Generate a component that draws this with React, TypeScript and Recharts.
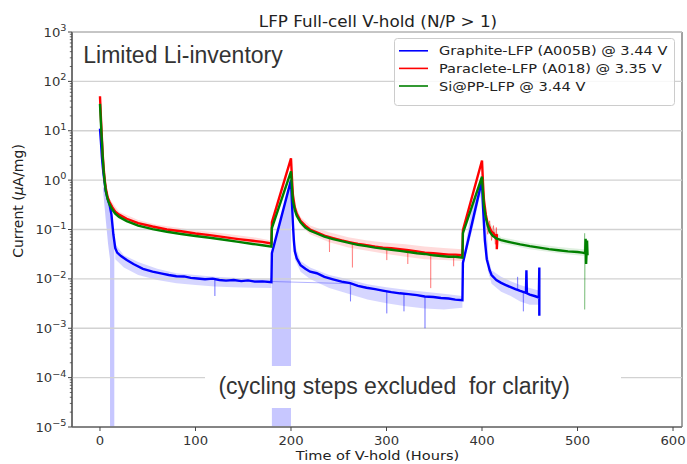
import React from 'react';
import { ComposedChart, Line, Area, XAxis, YAxis, Legend, ReferenceArea, ReferenceLine } from 'recharts';

// ---------- text ----------
const chartTitle = 'LFP Full-cell V-hold (N/P > 1)';
const xAxisLabel = 'Time of V-hold (Hours)';
const insetLabel = 'Limited Li-inventory';
const noteLabel = '(cycling steps excluded  for clarity)';
const seriesNames = ['Graphite-LFP (A005B) @ 3.44 V', 'Paraclete-LFP (A018) @ 3.35 V', 'Si@PP-LFP @ 3.44 V'];

// ---------- ticks ----------
const xTicks = [0, 100, 200, 300, 400, 500, 600];
const yMajorTicks = [1e-5, 1e-4, 1e-3, 1e-2, 1e-1, 1, 10, 100, 1000];
const yMinorMultipliers = [2, 3, 4, 5, 6, 7, 8, 9];
const yAllTicks = [
  ...yMajorTicks,
  ...yMajorTicks.slice(0, -1).flatMap((d) => yMinorMultipliers.map((m) => m * d)),
].sort((a, b) => a - b);

// ---------- smoothed series (time [h], current [uA/mg]) ----------
const graphite: number[][] = [
  [0, 11], [1, 6], [2, 3], [3, 1.8], [4, 1.2], [5, 0.85], [6, 0.6], [8, 0.42], [10, 0.32], [12, 0.2], [14, 0.08], [16, 0.042],
  [18, 0.034], [22, 0.029], [28, 0.024], [35, 0.02], [45, 0.016], [55, 0.014], [65, 0.0128], [72, 0.012], [80, 0.0113],
  [88, 0.0112], [95, 0.0105], [102, 0.0102], [110, 0.0098], [118, 0.0101], [125, 0.0095], [132, 0.0092], [140, 0.0095],
  [148, 0.009], [155, 0.0093], [162, 0.0088], [170, 0.0089], [179.5, 0.0086],
  [180, 0.033], [200, 1.0],
  [201, 0.35], [202, 0.13], [203, 0.06], [204, 0.036], [206, 0.026], [210, 0.019], [215, 0.016], [220, 0.014], [227, 0.013],
  [235, 0.011], [244, 0.0098], [253, 0.0088], [262, 0.0082], [270, 0.0072], [279, 0.0066], [288, 0.0062], [296, 0.0058],
  [305, 0.0054], [314, 0.0051], [323, 0.0049], [332, 0.0047], [340, 0.0044], [349, 0.0043], [357, 0.0041], [365, 0.004],
  [372, 0.0038], [379.5, 0.0037],
  [380, 0.021], [400, 1.0],
  [401, 0.3], [403, 0.06], [405, 0.025], [408, 0.015], [410, 0.012], [415, 0.0095], [420, 0.0083], [425, 0.0075],
  [430, 0.0068], [435, 0.0062], [440, 0.0057], [446, 0.0052], [446.5, 0.015],
  [447, 0.0051], [450, 0.0048], [455, 0.0045], [459.5, 0.0042], [460, 0.017], [460, 0.0018],
];

const paraclete: number[][] = [
  [0, 50], [1, 18], [2, 7], [3, 3], [4, 1.6], [5, 1.0], [6, 0.7], [8, 0.45], [10, 0.36], [13, 0.28], [16, 0.23], [20, 0.2],
  [28, 0.165], [40, 0.135], [55, 0.115], [70, 0.1], [85, 0.092], [100, 0.083], [115, 0.077], [130, 0.07], [145, 0.064],
  [160, 0.059], [170, 0.056], [179.5, 0.052],
  [180, 0.14], [200, 2.75],
  [201, 1.1], [202, 0.5], [204, 0.28], [206, 0.21], [210, 0.15], [215, 0.12], [220, 0.1], [227, 0.088], [235, 0.075],
  [244, 0.067], [253, 0.06], [262, 0.055], [270, 0.051], [279, 0.048], [288, 0.045], [296, 0.043], [305, 0.042],
  [314, 0.04], [323, 0.038], [332, 0.036], [340, 0.034], [349, 0.033], [357, 0.032], [365, 0.031], [372, 0.031], [379.5, 0.03],
  [380, 0.097], [400, 2.5],
  [401, 0.9], [402, 0.4], [404, 0.2], [406, 0.13], [408, 0.11], [410, 0.09], [412, 0.085], [414, 0.07], [415.5, 0.08],
  [415.5, 0.04], [416, 0.06],
];

const siPP: number[][] = [
  [0, 35], [1, 14], [2, 6], [3, 2.6], [4, 1.4], [5, 0.9], [6, 0.62], [8, 0.41], [10, 0.32], [13, 0.25], [16, 0.21], [20, 0.18],
  [28, 0.148], [40, 0.12], [55, 0.102], [70, 0.09], [85, 0.081], [100, 0.074], [115, 0.068], [130, 0.062], [145, 0.056],
  [160, 0.051], [170, 0.048], [179.5, 0.045],
  [180, 0.107], [200, 1.5],
  [201, 0.7], [202, 0.38], [204, 0.25], [206, 0.19], [210, 0.14], [215, 0.11], [220, 0.095], [227, 0.083], [235, 0.072],
  [244, 0.064], [253, 0.058], [262, 0.053], [270, 0.049], [279, 0.046], [288, 0.043], [296, 0.041], [305, 0.039],
  [314, 0.037], [323, 0.035], [332, 0.033], [340, 0.032], [349, 0.03], [357, 0.029], [365, 0.028], [372, 0.028], [379.5, 0.027],
  [380, 0.084], [400, 1.17],
  [401, 0.55], [402, 0.3], [404, 0.17], [406, 0.12], [408, 0.09], [411, 0.075], [415, 0.066], [420, 0.061], [430, 0.055],
  [440, 0.05], [450, 0.046], [460, 0.043], [470, 0.04], [480, 0.038], [490, 0.036], [500, 0.035], [505, 0.034], [508, 0.033],
  [508.5, 0.065], [509, 0.02], [510, 0.06], [510.5, 0.03],
];

// ---------- raw-data scatter envelopes: [time, low, high] ----------
const graphiteEnvelope0: number[][] = [
  [3, 0.7, 0.75], [6, 0.16, 0.6], [8.5, 0.05, 0.45], [10.5, 0.025, 0.32], [10.5, 1e-5, 0.32], [15, 1e-5, 0.045],
  [15, 0.03, 0.045],
];
const graphiteEnvelope1: number[][] = [
  [16, 0.025, 0.05], [25, 0.017, 0.03], [40, 0.012, 0.022], [60, 0.0095, 0.016], [80, 0.0082, 0.013], [100, 0.0075, 0.012],
  [120, 0.007, 0.011], [140, 0.0068, 0.0105], [160, 0.0066, 0.01], [179.5, 0.0065, 0.0098],
];
const graphiteEnvelopeRamp1: number[][] = [
  [180, 1e-5, 0.033], [200, 1e-5, 1.0],
];
const graphiteEnvelope2: number[][] = [
  [204, 0.025, 0.05], [210, 0.014, 0.023], [220, 0.01, 0.017], [240, 0.0065, 0.012], [260, 0.005, 0.0098],
  [280, 0.0038, 0.0078], [300, 0.0032, 0.0068], [320, 0.0028, 0.006], [340, 0.0025, 0.0055], [360, 0.0024, 0.005],
  [379.5, 0.0026, 0.0045],
];
const graphiteEnvelopeRamp2: number[][] = [
  [381, 0.021, 0.03], [390, 0.1, 0.35], [398, 0.5, 1.0], [401, 0.25, 0.8], [404, 0.03, 0.15], [406, 0.02, 0.05],
];
const graphiteEnvelope3: number[][] = [
  [406, 0.015, 0.03], [410, 0.008, 0.015], [420, 0.0055, 0.011], [430, 0.0045, 0.009], [440, 0.0035, 0.0075],
  [450, 0.003, 0.0065], [459.5, 0.003, 0.0058],
];
const paracleteEnvelope1: number[][] = [
  [10, 0.3, 0.42], [20, 0.17, 0.23], [40, 0.115, 0.155], [60, 0.095, 0.125], [80, 0.083, 0.11], [100, 0.073, 0.097],
  [120, 0.066, 0.088], [140, 0.058, 0.078], [160, 0.052, 0.07], [179.5, 0.046, 0.06],
];
const paracleteEnvelope2: number[][] = [
  [204, 0.24, 0.33], [210, 0.12, 0.18], [220, 0.08, 0.12], [240, 0.055, 0.088], [260, 0.043, 0.07], [280, 0.037, 0.06],
  [300, 0.032, 0.054], [320, 0.028, 0.05], [340, 0.025, 0.045], [360, 0.024, 0.042], [379.5, 0.023, 0.04],
];
const siPPEnvelope: number[][] = [
  [405, 0.1, 0.16], [420, 0.052, 0.07], [450, 0.04, 0.053], [480, 0.033, 0.044], [507, 0.029, 0.04],
];

// ---------- raw-data spikes ----------
const graphiteSpikes: number[][] = [
  [120, 0.0095], [120.3, 0.0045], [120.6, 0.0095], [262, 0.008], [262.3, 0.0035], [262.6, 0.008],
  [300, 0.0055], [300.3, 0.002], [300.6, 0.0055], [318, 0.005], [318.3, 0.0022], [318.6, 0.005],
  [340, 0.0044], [340.3, 0.001], [340.6, 0.0044],
];
const graphiteSpikes2: number[][] = [
  [437, 0.006], [437.3, 0.011], [437.6, 0.006], [443, 0.0055], [443.3, 0.0022], [443.6, 0.0055],
];
const paracleteSpikes: number[][] = [
  [240, 0.07], [240.3, 0.035], [240.6, 0.07], [264, 0.055], [264.3, 0.017], [264.6, 0.055], [300, 0.043],
  [300.3, 0.024], [300.6, 0.043], [322, 0.038], [322.3, 0.02], [322.6, 0.038], [346, 0.034], [346.3, 0.0065],
  [346.6, 0.034], [370, 0.031], [370.3, 0.018], [370.6, 0.031],
];
const paracleteSpikes2: number[][] = [
  [404, 0.2], [406, 0.08], [408, 0.15], [410, 0.06], [412, 0.12], [414, 0.05], [415, 0.11], [416, 0.045],
];
const siPPSpikes: number[][] = [
  [507, 0.034], [507.5, 0.084], [507.5, 0.0024], [508, 0.033],
];

const toPts = (a: number[][]) => a.map(([t, v]) => ({ t, v }));
const toRange = (a: number[][]) => a.map(([t, lo, hi]) => ({ t, r: [lo, hi] }));

const BLUE = '#0000ff';
const RED = '#ff0000';
const GREEN = '#008000';
const MPL_FONT = '"DejaVu Sans", sans-serif';
const PPT_FONT = '"Liberation Sans", Arial, sans-serif';

const YTick = (props: any) => {
  const { x, y, payload } = props;
  const v = payload.value as number;
  const e = Math.log10(v);
  const n = Math.round(e);
  const isMajor = Math.abs(e - n) < 1e-6;
  if (!isMajor) {
    return <line x1={x - 2.2} x2={x} y1={y} y2={y} stroke="#444" strokeWidth={0.8} />;
  }
  const expStr = n < 0 ? `\u2212${-n}` : `${n}`;
  return (
    <g>
      <line x1={x - 4} x2={x} y1={y} y2={y} stroke="#444" strokeWidth={1} />
      <g transform={`translate(${x - 5.5},${y}) scale(1.1,1)`}>
        <text x={0} y={0} dy={4.5} textAnchor="end" fontFamily={MPL_FONT} fontSize={12} fill="#333">
          10
          <tspan dy={-5.5} fontSize={8.8}>{expStr}</tspan>
        </text>
      </g>
    </g>
  );
};

const XTick = (props: any) => {
  const { x, y, payload } = props;
  return (
    <g transform={`translate(${x},${y}) scale(1.1,1)`}>
      <text x={0} y={0} dy={12} textAnchor="middle" fontFamily={MPL_FONT} fontSize={12} fill="#333">
        {payload.value}
      </text>
    </g>
  );
};

const LegendBox = (props: any) => {
  const payload = (props.payload || []).filter((p: any) => p.type !== 'none');
  return (
    <svg width={281} height={68} style={{ display: 'block', overflow: 'visible' }}>
      <rect x={0.5} y={0.5} width={280} height={67} rx={3} fill="#ffffff" fillOpacity={0.85} stroke="#cccccc" />
      {payload.map((p: any, i: number) => {
        const yy = 12.8 + 17.6 * i;
        return (
          <g key={i}>
            <line x1={5} x2={34} y1={yy} y2={yy} stroke={p.color} strokeWidth={1.6} />
            <g transform={`translate(45,${yy}) scale(1.12,1)`}>
              <text x={0} y={0} dy={4.6} fontFamily={MPL_FONT} fontSize={13} fill="#222">
                {p.value}
              </text>
            </g>
          </g>
        );
      })}
    </svg>
  );
};

const bandProps = (color: string, opacity: number) => ({
  dataKey: 'r',
  type: 'linear' as const,
  stroke: 'none',
  fill: color,
  fillOpacity: opacity,
  isAnimationActive: false,
  legendType: 'none' as const,
  dot: false,
  activeDot: false,
});

const faintProps = (color: string, opacity: number) => ({
  dataKey: 'v',
  type: 'linear' as const,
  stroke: color,
  strokeOpacity: opacity,
  strokeWidth: 1,
  dot: false,
  activeDot: false,
  isAnimationActive: false,
  legendType: 'none' as const,
});

export default function App() {
  return (
    <div style={{ position: 'absolute', left: 0, top: 0, width: 687, height: 464, background: '#fff', overflow: 'hidden' }}>
      <ComposedChart width={687} height={464} margin={{ top: 32, right: 5, bottom: 7, left: 12 }}>
        <XAxis
          type="number"
          dataKey="t"
          domain={[-29.3, 609.4]}
          ticks={xTicks}
          interval={0}
          allowDataOverflow
          tickSize={4}
          tickMargin={2}
          tick={<XTick />}
          tickLine={{ stroke: '#444' }}
          axisLine={{ stroke: '#444' }}
          height={30}
        />
        <YAxis
          type="number"
          scale="log"
          domain={[1e-5, 1e3]}
          ticks={yAllTicks}
          interval={0}
          allowDataOverflow
          tickSize={0}
          tickMargin={0}
          tickLine={false}
          tick={<YTick />}
          axisLine={{ stroke: '#444' }}
          width={60}
        />
        {yMajorTicks.map((v) => (
          <ReferenceLine key={v} y={v} stroke="#d2d2d2" strokeWidth={1.3} ifOverflow="visible" />
        ))}

        <Area data={toRange(graphiteEnvelope0)} {...bandProps(BLUE, 0.22)} />
        <Area data={toRange(graphiteEnvelope1)} {...bandProps(BLUE, 0.16)} />
        <Area data={toRange(graphiteEnvelopeRamp1)} {...bandProps(BLUE, 0.22)} />
        <Area data={toRange(graphiteEnvelope2)} {...bandProps(BLUE, 0.16)} />
        <Area data={toRange(graphiteEnvelopeRamp2)} {...bandProps(BLUE, 0.18)} />
        <Area data={toRange(graphiteEnvelope3)} {...bandProps(BLUE, 0.16)} />
        <Area data={toRange(paracleteEnvelope1)} {...bandProps(RED, 0.14)} />
        <Area data={toRange(paracleteEnvelope2)} {...bandProps(RED, 0.14)} />
        <Area data={toRange(siPPEnvelope)} {...bandProps(GREEN, 0.12)} />

        <Line data={toPts(graphiteSpikes)} {...faintProps(BLUE, 0.3)} />
        <Line data={toPts(graphiteSpikes2)} {...faintProps(BLUE, 0.3)} />
        <Line data={toPts(paracleteSpikes)} {...faintProps(RED, 0.3)} />
        <Line data={toPts(paracleteSpikes2)} {...faintProps(RED, 0.4)} />
        <Line data={toPts(siPPSpikes)} {...faintProps(GREEN, 0.3)} />

        <Line data={toPts(graphite)} dataKey="v" name={seriesNames[0]} type="linear" stroke={BLUE} strokeWidth={2.4} dot={false} activeDot={false} isAnimationActive={false} />
        <Line data={toPts(paraclete)} dataKey="v" name={seriesNames[1]} type="linear" stroke={RED} strokeWidth={2.4} dot={false} activeDot={false} isAnimationActive={false} />
        <Line data={toPts(siPP)} dataKey="v" name={seriesNames[2]} type="linear" stroke={GREEN} strokeWidth={2.4} dot={false} activeDot={false} isAnimationActive={false} />

        <ReferenceArea x1={-29.3} x2={609.4} y1={1e-5} y2={1e3} fill="none" stroke="#444" strokeWidth={1} ifOverflow="visible" />

        <Legend
          layout="vertical"
          align="center"
          verticalAlign="middle"
          content={<LegendBox />}
          wrapperStyle={{ position: 'absolute', left: 394, top: 38, width: 281, height: 68 }}
        />
      </ComposedChart>

      <svg width={687} height={464} style={{ position: 'absolute', left: 0, top: 0, pointerEvents: 'none' }}>
        <g transform="translate(378,27) scale(1.12,1)">
          <text x={0} y={0} textAnchor="middle" fontFamily={MPL_FONT} fontSize={15} fill="#222">{chartTitle}</text>
        </g>
        <g transform="translate(377.5,460) scale(1.12,1)">
          <text x={0} y={0} textAnchor="middle" fontFamily={MPL_FONT} fontSize={13} fill="#222">{xAxisLabel}</text>
        </g>
        <text transform="translate(18,201) rotate(-90)" x={0} y={0} dy={5} textAnchor="middle" fontFamily={MPL_FONT} fontSize={14} fill="#222">
          Current (<tspan fontStyle="italic">μ</tspan>A/mg)
        </text>
        <text x={83.3} y={63} fontFamily={PPT_FONT} fontSize={23} fill="#333">{insetLabel}</text>
        <rect x={205} y={366} width={416} height={42} fill="#ffffff" />
        <text x={218.4} y={394} fontFamily={PPT_FONT} fontSize={23} fill="#333" xmlSpace="preserve" style={{ whiteSpace: 'pre' }}>{noteLabel}</text>
      </svg>
    </div>
  );
}
